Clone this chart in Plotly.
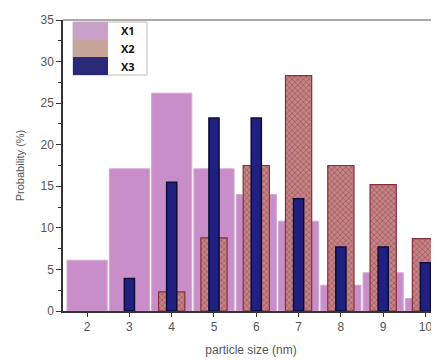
import plotly.graph_objects as go

# ---- data ----
sizes = [2, 3, 4, 5, 6, 7, 8, 9, 10]
x1 = [6.1, 17.1, 26.2, 17.1, 14.0, 10.8, 3.1, 4.6, 1.5]
x2 = [None, None, 2.3, 8.8, 17.5, 28.3, 17.5, 15.2, 8.7]
x3 = [None, 3.9, 15.5, 23.2, 23.2, 13.5, 7.7, 7.7, 5.8]
series_names = ["X1", "X2", "X3"]
y_ticks = [0, 5, 10, 15, 20, 25, 30, 35]

font_family = "Liberation Sans, Arial, sans-serif"

fig = go.Figure()
fig.add_trace(go.Bar(
    x=sizes, y=x1, name=series_names[0], width=0.95,
    marker=dict(color="#c98ec9", line=dict(color="#d2a8d0", width=1)),
    showlegend=False,
))
fig.add_trace(go.Bar(
    x=sizes, y=x2, name=series_names[1], width=0.62,
    marker=dict(color="#b05a60",
                line=dict(color="#84303a", width=1.2),
                pattern=dict(shape="x", fgcolor="#8e2c34", bgcolor="#c28486",
                             size=4, solidity=0.35)),
    showlegend=False,
))
fig.add_trace(go.Bar(
    x=sizes, y=x3, name=series_names[2], width=0.24,
    marker=dict(color="#202080", line=dict(color="#0c0c3a", width=1.5)),
    showlegend=False,
))

# ---- custom legend (swatches + labels), paper coordinates ----
def px_x(p):
    return (p - 63) / 376.0

def px_y(p):
    return (311 - p) / 291.0

sw_colors = ["#c8a0c8", "#c8a59a", "#2a2a78"]
rows = [(22, 40), (40, 57), (57, 75)]
fig.add_shape(type="rect", xref="paper", yref="paper",
              x0=px_x(73), x1=px_x(147), y0=px_y(75), y1=px_y(22),
              line=dict(color="#bbbbbb", width=1), fillcolor="white", layer="above")
for (t, b), c, name in zip(rows, sw_colors, series_names):
    fig.add_shape(type="rect", xref="paper", yref="paper",
                  x0=px_x(73), x1=px_x(108), y0=px_y(b), y1=px_y(t),
                  line=dict(width=0), fillcolor=c, layer="above")
    fig.add_annotation(xref="paper", yref="paper", x=px_x(119), y=px_y((t + b) / 2),
                       text="<b>%s</b>" % name, showarrow=False, xanchor="left",
                       yanchor="middle", font=dict(family="Open Sans, Arial", size=11,
                                                   color="#111111"))

# top frame line
fig.add_shape(type="line", xref="paper", yref="paper", x0=0, x1=1, y0=1, y1=1,
              line=dict(color="#aaaaaa", width=2))

# the page body has an 8px margin, so the figure is sized to fit the window
fig.update_layout(
    width=431, height=352,
    margin=dict(l=55, r=0, t=12, b=49),
    barmode="overlay",
    paper_bgcolor="white", plot_bgcolor="white",
    font=dict(family=font_family, color="#444444", size=12),
    xaxis=dict(
        range=[1.43, 10.32], tickvals=sizes, ticks="outside", ticklen=4,
        tickcolor="#333333", showgrid=False, zeroline=False, automargin=False,
        showline=True, linecolor="#333333", linewidth=1.5,
        tickfont=dict(size=12, color="#555555"),
        title=dict(text="particle size (nm)", font=dict(size=12, color="#555555"),
                   standoff=12),
    ),
    yaxis=dict(
        range=[0, 35], tickvals=y_ticks, ticks="outside", ticklen=5,
        tickcolor="#333333", showgrid=False, zeroline=False, automargin=False,
        showline=True, linecolor="#333333", linewidth=1.5,
        tickfont=dict(size=12, color="#555555"),
        minor=dict(dtick=2.5, ticks="outside", ticklen=3, tickcolor="#333333"),
        title=dict(text="Probability (%)", font=dict(size=11, color="#555555"),
                   standoff=14),
    ),
)

fig.write_html("out.html")
